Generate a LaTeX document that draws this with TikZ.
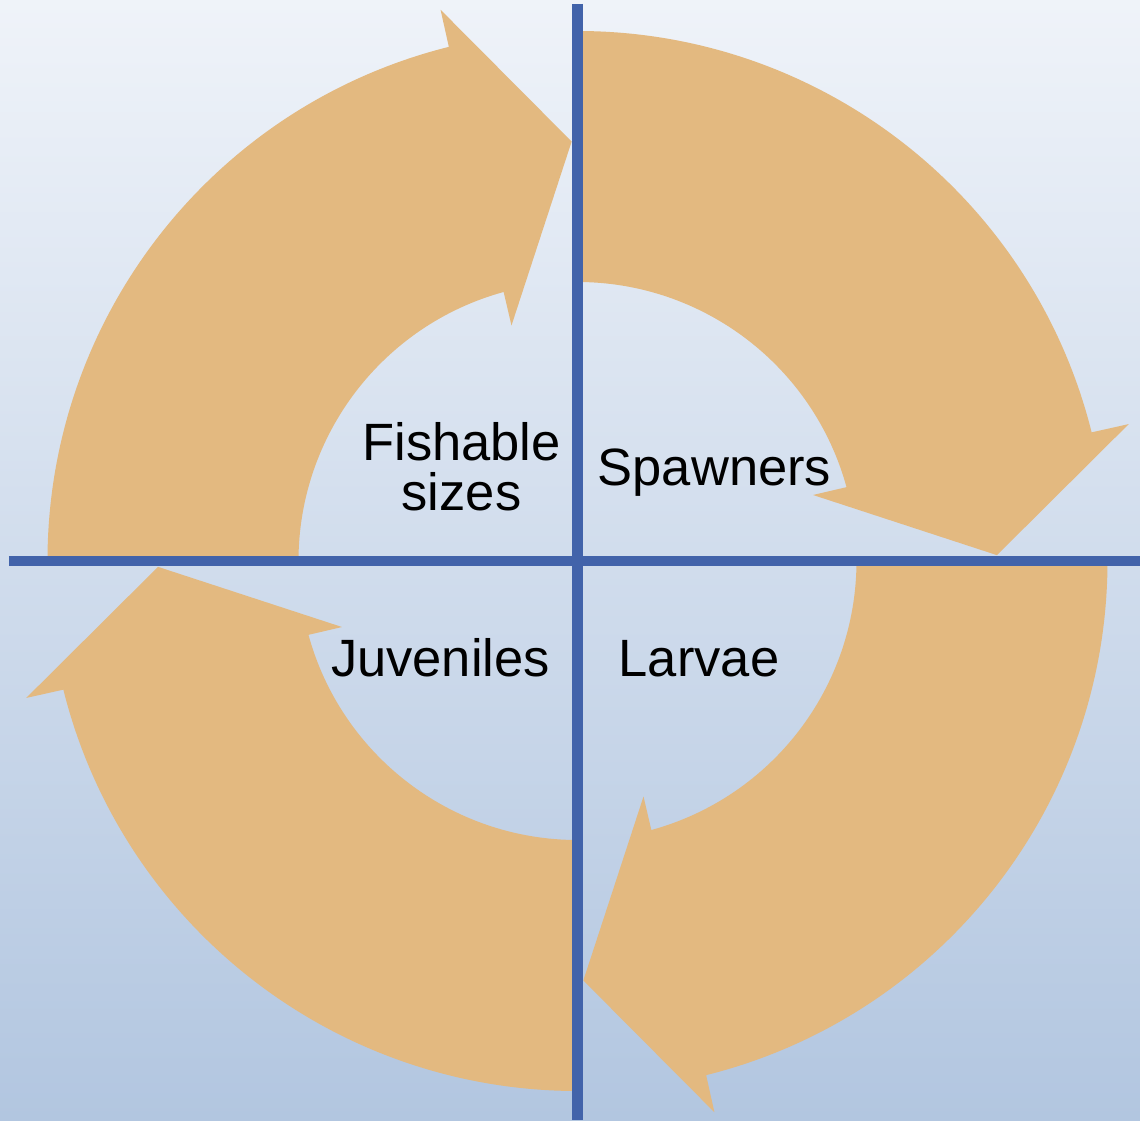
\documentclass[tikz,border=0pt]{standalone}
\usepackage{fontspec}
\setmainfont{Liberation Sans}
\begin{document}
\begin{tikzpicture}[x=1pt,y=1pt,
  arrowfill/.style={fill={rgb,255:red,227;green,185;blue,128}, draw=none},
  axisline/.style={draw={rgb,255:red,66;green,99;blue,170}, line width=10pt},
  lbl/.style={font=\fontsize{52.5}{50}\selectfont, text=black, inner sep=0pt, anchor=base, align=center},
  cycarrow/.pic={
    \path[arrowfill] (90:530) arc[start angle=90, end angle=14.05, radius=530]
      -- (13.95:568) -- (0.8:419.5) -- (15.66:244.6) -- (15.35:279)
      arc[start angle=15.35, end angle=90, radius=279] -- cycle;
  }]
% background
\shade[top color={rgb,255:red,239;green,243;blue,249}, bottom color={rgb,255:red,178;green,198;blue,224}]
  (-577.5,-559) rectangle (562.5,561);
\useasboundingbox (-577.5,-559) rectangle (562.5,561);
% arrows
\pic[rotate=0] {cycarrow};
\pic[rotate=-90] {cycarrow};
\pic[rotate=-180] {cycarrow};
\pic[rotate=90] {cycarrow};
% axes
\coordinate (vtop) at (0,557);
\coordinate (vbot) at (0,-559);
\coordinate (hleft) at (-568.5,0);
\coordinate (hright) at (562.5,0);
\draw[axisline] (vtop) -- (vbot);
\draw[axisline] (hleft) -- (hright);
% labels
\node[lbl] (fish) at (-116,51) {Fishable\\sizes};
\node[lbl] (spawn) at (137,76) {Spawners};
\node[lbl] (juv) at (-137,-115) {Juveniles};
\node[lbl] (larv) at (121.5,-115) {Larvae};
\end{tikzpicture}
\end{document}
